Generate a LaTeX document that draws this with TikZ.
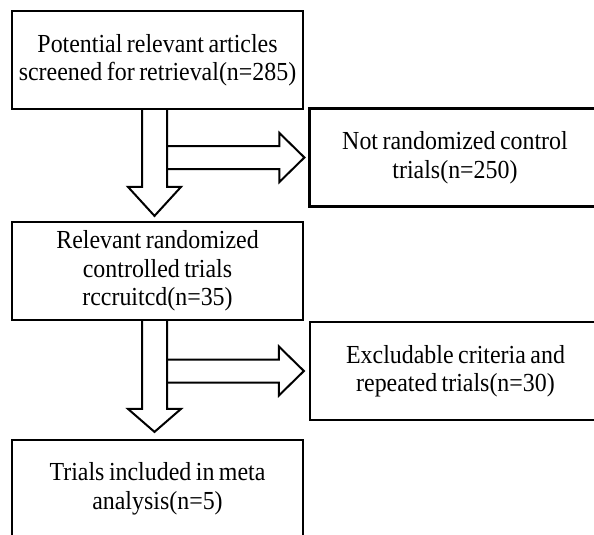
\documentclass[tikz,border=0pt]{standalone}
\usepackage{fontspec}
\setmainfont{Liberation Serif}[FakeStretch=0.92, WordSpace=0.75]
\usetikzlibrary{calc}
\tikzset{
  box/.style={draw, line width=2.2pt, minimum width=291pt, minimum height=98pt,
    inner sep=0pt, align=center, font=\fontsize{26}{28.5}\selectfont},
  blockarrow/.style={draw, line width=2pt, line join=miter}
}
\begin{document}
\begin{tikzpicture}[x=1pt,y=-1pt]
    \clip (0,0) rectangle (594,535);
    \node[box] (A0_0) at (157.5,60) {Potential relevant articles\\screened for retrieval(n=285)};
    \node[box] (A0_1) at (455,157.5) {Not randomized control\\trials(n=250)};
    \node[box] (A1_0) at (157.5,271) {Relevant randomized\\controlled trials\\rccruitcd(n=35)};
    \node[box] (A1_1) at (455.5,371) {Excludable criteria and\\repeated trials(n=30)};
    \node[box] (A2_0) at (157.5,489) {Trials included in meta\\analysis(n=5)};
    % first step
    \draw[blockarrow] ($(A0_0.south |- A0_1.west)+(9.5,-11.5)$) -- ($(A0_1.west)+(-29,-11.5)$)
      -- ++(0,-13) -- ($(A0_1.west)+(-4,0)$) -- ($(A0_1.west)+(-29,24.5)$) -- ++(0,-13)
      -- ($(A0_0.south |- A0_1.west)+(9.5,11.5)$);
    \draw[blockarrow] ($(A0_0.south)+(-15.5,0)$) -- ($(A1_0.north)+(-15.5,-34)$) -- ++(-14,0)
      -- ($(A1_0.north)+(-3,-5)$) -- ($(A1_0.north)+(23.5,-34)$) -- ++(-14,0)
      -- ($(A0_0.south)+(9.5,0)$);
    % second step
    \draw[blockarrow] ($(A1_0.south |- A1_1.west)+(9.5,-11.5)$) -- ($(A1_1.west)+(-30,-11.5)$)
      -- ++(0,-13) -- ($(A1_1.west)+(-5,0)$) -- ($(A1_1.west)+(-30,24.5)$) -- ++(0,-13)
      -- ($(A1_0.south |- A1_1.west)+(9.5,11.5)$);
    \draw[blockarrow] ($(A1_0.south)+(-15.5,0)$) -- ($(A2_0.north)+(-15.5,-30)$) -- ++(-14,0)
      -- ($(A2_0.north)+(-3,-7)$) -- ($(A2_0.north)+(23.5,-30)$) -- ++(-14,0)
      -- ($(A1_0.south)+(9.5,0)$);
\end{tikzpicture}
\end{document}
